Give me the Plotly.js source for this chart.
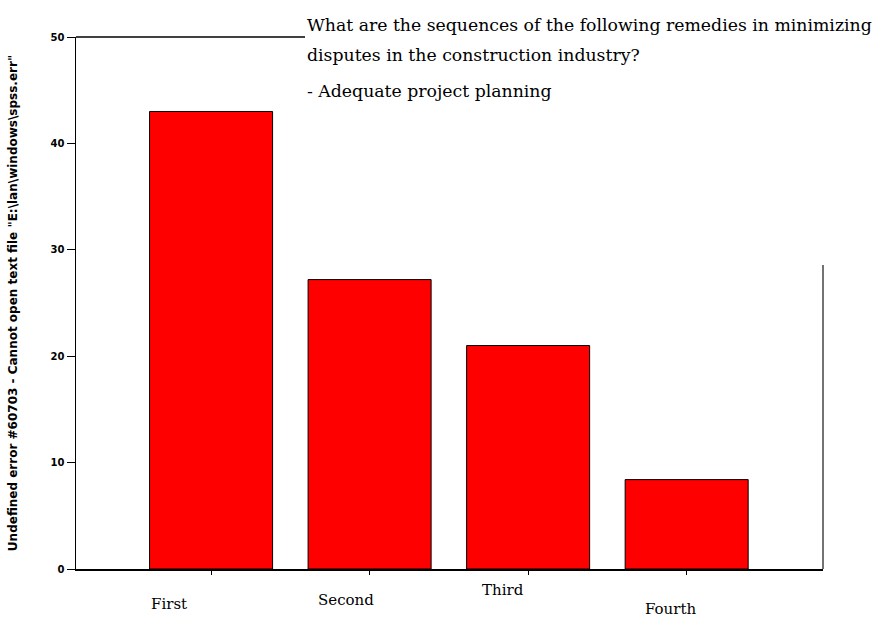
<!DOCTYPE html>
<html><head><meta charset="utf-8">
<script src="https://cdn.plot.ly/plotly-3.0.1.min.js"></script>
<style>html,body{margin:0;padding:0;background:#fff}#chart{width:881px;height:621px}</style>
</head><body><div id="chart"></div>
<script>
const categories = ["First", "Second", "Third", "Fourth"];
const values = [43, 27.2, 21, 8.4];
const titleLines = [
  "What are the sequences of the following remedies in minimizing",
  "disputes in the construction industry?",
  "- Adequate project planning"
];
const yTitle = "Undefined error #60703 - Cannot open text file \"E:\\lan\\windows\\spss.err\"";
const yTicks = [0, 10, 20, 30, 40, 50];

// label placement offsets (style only)
const labelDx = [-42, -24, -25, -16];
const labelDy = [-35, -31, -21, -40];
const titleY = [37, 67, 103];

const W = 881, H = 621;
const L = 76, R = 58, T = 37, B = 52;
const serif = "DejaVu Serif, Liberation Serif, serif";

const annotations = categories.map((c, i) => ({
  x: c, xref: 'x', y: 0, yref: 'paper', yanchor: 'middle', xanchor: 'center',
  text: c, showarrow: false, xshift: labelDx[i], yshift: labelDy[i],
  font: {family: serif, size: 15, color: '#000'}
}));
titleLines.forEach((t, i) => {
  annotations.push({
    x: (305 - L) / (W - L - R), xref: 'paper', xanchor: 'left',
    y: 1 + (T - titleY[i]) / (H - T - B), yref: 'paper', yanchor: 'bottom',
    text: t, showarrow: false,
    font: {family: serif, size: 17.3, color: '#000'}
  });
});

const data = [{
  type: 'bar', x: categories, y: values,
  marker: {color: '#ff0000', line: {color: '#000', width: 1}},
  width: 0.776
}];

const layout = {
  width: W, height: H,
  margin: {l: L, r: R, t: T, b: B, pad: 0},
  paper_bgcolor: '#fff', plot_bgcolor: '#fff',
  showlegend: false,
  xaxis: {
    type: 'category', range: [-0.852, 3.86],
    showline: true, linecolor: '#000', linewidth: 1.5,
    ticks: 'outside', ticklen: 4, tickcolor: '#000',
    showticklabels: false, showgrid: false, zeroline: false, fixedrange: true
  },
  yaxis: {
    range: [0, 50], tickvals: yTicks,
    showline: true, linecolor: '#000', linewidth: 1.5,
    ticks: 'outside', ticklen: 8, tickcolor: '#000',
    tickfont: {family: 'DejaVu Sans, sans-serif', size: 10, color: '#000', weight: 'bold'},
    showgrid: false, zeroline: false,
    title: {text: yTitle, standoff: 30, font: {family: 'DejaVu Sans, sans-serif', size: 12, color: '#000', weight: 'bold'}},
    fixedrange: true
  },
  shapes: [
    {type: 'line', xref: 'paper', yref: 'paper', x0: 0, x1: (305 - L) / (W - L - R), y0: 1, y1: 1,
     line: {color: '#000', width: 1.5}},
    {type: 'line', xref: 'paper', yref: 'paper', x0: 1, x1: 1, y0: 0, y1: (H - B - 265) / (H - T - B),
     line: {color: '#444', width: 1.5}}
  ],
  annotations: annotations
};

Plotly.newPlot('chart', data, layout, {displayModeBar: false, staticPlot: true});
</script>
</body></html>
